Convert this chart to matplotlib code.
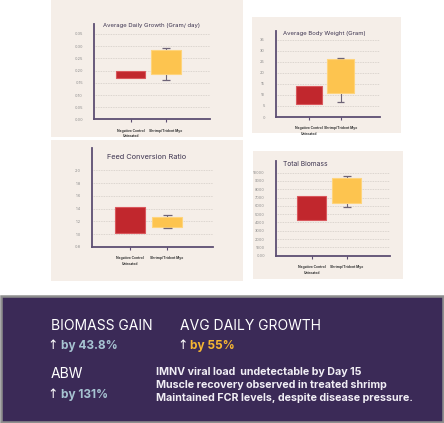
import matplotlib.pyplot as plt
from matplotlib.patches import Rectangle
import numpy as np

W, H = 444, 423

# categories
groups = ["Negative Control\nUntreated", "Shrimp/Trident Myo"]

# box values: (low, high) per group, whiskers for treated group
adg_box = [(0.17, 0.20), (0.185, 0.285)]
adg_whisk = [None, (0.163, 0.291)]
abw_box = [(5.7, 13.9), (10.9, 26.3)]
abw_whisk = [None, (6.9, 26.9)]
fcr_box = [(1.02, 1.42), (1.12, 1.27)]
fcr_whisk = [None, (1.10, 1.30)]
bio_box = [(4300, 7200), (6400, 9300)]
bio_whisk = [None, (5850, 9550)]

adg_ticks = [0, 0.05, 0.1, 0.15, 0.2, 0.25, 0.3, 0.35]
abw_ticks = [0, 5, 10, 15, 20, 25, 30, 35]
fcr_ticks = [0.8, 1.0, 1.2, 1.4, 1.6, 1.8, 2.0]
bio_ticks = [0, 1000, 2000, 3000, 4000, 5000, 6000, 7000, 8000, 9000, 10000]
bio_labels = ["0.00"] + [str(t) for t in bio_ticks[1:]]

RED = "#c1272d"
YEL = "#fdc44f"
BEIGE = "#f5eee8"
PURPLE = "#3b2a57"
AXC = "#5d4e72"

plt.rcParams['font.family'] = ['Inter', 'DejaVu Sans']

fig = plt.figure(figsize=(W / 100, H / 100), dpi=100)
fig.patch.set_facecolor("white")


def px(x0, y0, x1, y1):
    return [x0 / W, 1 - y1 / H, (x1 - x0) / W, (y1 - y0) / H]


def panel(x0, y0, x1, y1):
    fig.patches.append(Rectangle((x0 / W, 1 - y1 / H), (x1 - x0) / W, (y1 - y0) / H,
                                 transform=fig.transFigure, facecolor=BEIGE,
                                 edgecolor="none", zorder=-5))


def boxchart(rect, boxes, whisk, ticks, ylim, title, tsize, tpos, ticklabels=None):
    ax = fig.add_axes(px(*rect))
    ax.set_facecolor("none")
    x = np.arange(len(groups))
    lows = [b[0] for b in boxes]
    highs = [b[1] for b in boxes]
    heights = [h - l for l, h in zip(lows, highs)]
    ax.bar(x, heights, bottom=lows, width=0.83, color=[RED, YEL],
           edgecolor=["#d9575c", "#fed47c"], linewidth=0.8, zorder=3)
    for i, w in enumerate(whisk):
        if w is None:
            continue
        ax.vlines(x[i], w[0], lows[i], color="#6e6478", lw=0.8, zorder=2)
        ax.vlines(x[i], highs[i], w[1], color="#6e6478", lw=0.8, zorder=2)
        ax.hlines(w, x[i] - 0.12, x[i] + 0.12, color="#6e6478", lw=0.9, zorder=4)
    ax.set_xlim(-1.03, 2.24)
    ax.set_ylim(*ylim)
    ax.set_yticks(ticks)
    if ticklabels is not None:
        ax.set_yticklabels(ticklabels)
    ax.set_xticks(x)
    ax.set_xticklabels(groups, fontsize=2.4, fontweight="bold", color="#333333",
                       linespacing=1.6)
    ax.tick_params(axis="y", length=0, labelsize=2.8, labelcolor="#8a8a8a", pad=8)
    ax.tick_params(axis="x", length=2.5, width=0.8, color=AXC, pad=4)
    ax.grid(axis="y", linestyle=(0, (1, 1)), color="#d2ccc6", lw=0.6, zorder=1)
    for s in ["top", "right"]:
        ax.spines[s].set_visible(False)
    for s in ["left", "bottom"]:
        ax.spines[s].set_color(AXC)
        ax.spines[s].set_linewidth(1.3)
    fig.text(tpos[0] / W, 1 - tpos[1] / H, title, fontsize=tsize, color="#3d3450",
             va="center", ha="left")
    return ax


panel(51, 0, 243, 137)
panel(252, 17, 401, 133)
panel(51, 140, 243, 281)
panel(253, 151, 403, 279)

boxchart((94, 24, 210, 119.5), adg_box, adg_whisk, adg_ticks, (0, 0.39),
         "Average Daily Growth (Gram/ day)", 4.3, (103, 26))
boxchart((276, 31, 380, 117), abw_box, abw_whisk, abw_ticks, (0, 39),
         "Average Body Weight (Gram)", 4.3, (283, 33))
boxchart((92, 148, 213, 247), fcr_box, fcr_whisk, fcr_ticks, (0.8, 2.35),
         "Feed Conversion Ratio", 5.3, (107, 157))
boxchart((276, 161, 390, 255.7), bio_box, bio_whisk, bio_ticks, (0, 11400),
         "Total Biomass", 4.8, (283, 164), bio_labels)

# summary box
fig.patches.append(Rectangle((1 / W, 1.5 / H), (W - 2) / W, (H - 297.5) / H,
                             transform=fig.transFigure, facecolor=PURPLE,
                             edgecolor="#8e8e8e", linewidth=1.8, zorder=-5))


def t(x, y, s, **kw):
    fig.text(x / W, 1 - y / H, s, va="center", **kw)


t(50.5, 326.5, "BIOMASS GAIN", fontsize=10, color="white")
t(180, 326.5, "AVG DAILY GROWTH", fontsize=10, color="white")
t(50.5, 374, "ABW", fontsize=10, color="white")
t(53, 345.5, "\u2191", fontsize=9, color="white", ha="center", family=["DejaVu Sans"])
t(60.5, 345.5, "by 43.8%", fontsize=8.5, color="#a7c4d2", fontweight="bold")
t(182.5, 345.5, "\u2191", fontsize=9, color="white", ha="center", family=["DejaVu Sans"])
t(190, 345.5, "by 55%", fontsize=8.5, color="#f6b632", fontweight="bold")
t(53, 394.5, "\u2191", fontsize=9, color="white", ha="center", family=["DejaVu Sans"])
t(60.5, 394.5, "by 131%", fontsize=8.5, color="#a7c4d2", fontweight="bold")

notes = ["IMNV viral load  undetectable by Day 15",
         "Muscle recovery observed in treated shrimp",
         "Maintained FCR levels, despite disease pressure."]
for i, line in enumerate(notes):
    t(156, 371.5 + i * 13, line, fontsize=7.7, color="#f1eef5", fontweight="bold")

fig.savefig("out.png", dpi=100)
